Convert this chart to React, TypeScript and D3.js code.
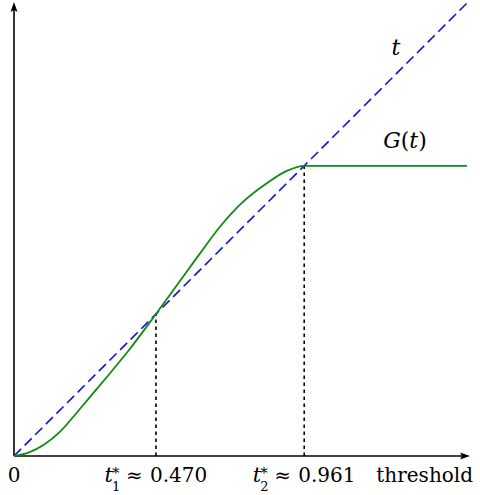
import React from 'react';
import * as d3 from 'd3';

// G(t), flat after the second crossing
const tVals = [0, 0.05, 0.1, 0.15, 0.2, 0.252, 0.318, 0.384, 0.47, 0.55, 0.616, 0.682, 0.759, 0.837, 0.903, 0.961, 1.5];
const gVals = [0, 0.012, 0.038, 0.078, 0.134, 0.196, 0.274, 0.355, 0.47, 0.58, 0.671, 0.759, 0.842, 0.903, 0.944, 0.961, 0.961];
const crossings = [
  { t: 0.47, sub: '1', label: '0.470' },
  { t: 0.961, sub: '2', label: '0.961' }
];
const diagonal = [0, 1.5];

const W = 480;
const H = 495;
const serif = { fontFamily: "'DejaVu Serif', serif" };

export default function App() {
  const x = d3.scaleLinear().domain([0, 1.5]).range([14, 467]);
  const y = d3.scaleLinear().domain([0, 1.5]).range([456, 3]);

  const pts = tVals.map((t, i) => [t, gVals[i]] as [number, number]);
  const gLine = d3
    .line<[number, number]>()
    .x(d => x(d[0]))
    .y(d => y(d[1]))
    .curve(d3.curveMonotoneX);
  const diag = d3
    .line<number>()
    .x(d => x(d))
    .y(d => y(d));

  const x0 = x(0);
  const y0 = y(0);

  return (
    <svg
      width={W}
      height={H}
      style={{ position: 'absolute', left: 0, top: 0, background: '#fff' }}
    >
      {/* dotted guides */}
      {crossings.map(c => (
        <line
          key={c.sub}
          x1={x(c.t)}
          x2={x(c.t)}
          y1={y0}
          y2={y(c.t)}
          stroke="#000"
          strokeWidth={1.6}
          strokeDasharray="3.5,3.5"
        />
      ))}
      {/* axes */}
      <line x1={x0} y1={y0} x2={466} y2={y0} stroke="#000" strokeWidth={1.6} />
      <line x1={x0} y1={y0} x2={x0} y2={6} stroke="#000" strokeWidth={1.6} />
      <path d={`M470,${y0} L460,${y0 - 3.5} L462,${y0} L460,${y0 + 3.5} Z`} fill="#000" />
      <path d={`M${x0},2 L${x0 - 3.5},12 L${x0},10 L${x0 + 3.5},12 Z`} fill="#000" />

      <path
        d={diag(diagonal) || ''}
        fill="none"
        stroke="#1515d0"
        strokeWidth={1.6}
        strokeDasharray="10,5"
      />
      <path d={gLine(pts) || ''} fill="none" stroke="#108a10" strokeWidth={1.8} />

      {/* labels */}
      <text x={x0} y={482} fontSize={20} textAnchor="middle" style={serif}>0</text>
      {crossings.map(c => (
        <g key={'l' + c.sub} style={serif}>
          <text x={x(c.t) - 43} y={482} fontSize={21} fontStyle="italic" textAnchor="end">t</text>
          <text x={x(c.t) - 44} y={478} fontSize={15}>*</text>
          <text x={x(c.t) - 44} y={491} fontSize={13}>{c.sub}</text>
          <text x={x(c.t) - 30} y={482} fontSize={20}>≈</text>
          <text x={x(c.t) - 6} y={482} fontSize={20}>{c.label}</text>
        </g>
      ))}
      <text x={473} y={482} fontSize={20} textAnchor="end" style={serif}>threshold</text>
      <text x={396} y={55} fontSize={22} fontStyle="italic" textAnchor="middle" style={serif}>t</text>
      <text x={405} y={148} fontSize={22} textAnchor="middle" style={serif}>
        <tspan fontStyle="italic">G</tspan>(<tspan fontStyle="italic">t</tspan>)
      </text>
    </svg>
  );
}
